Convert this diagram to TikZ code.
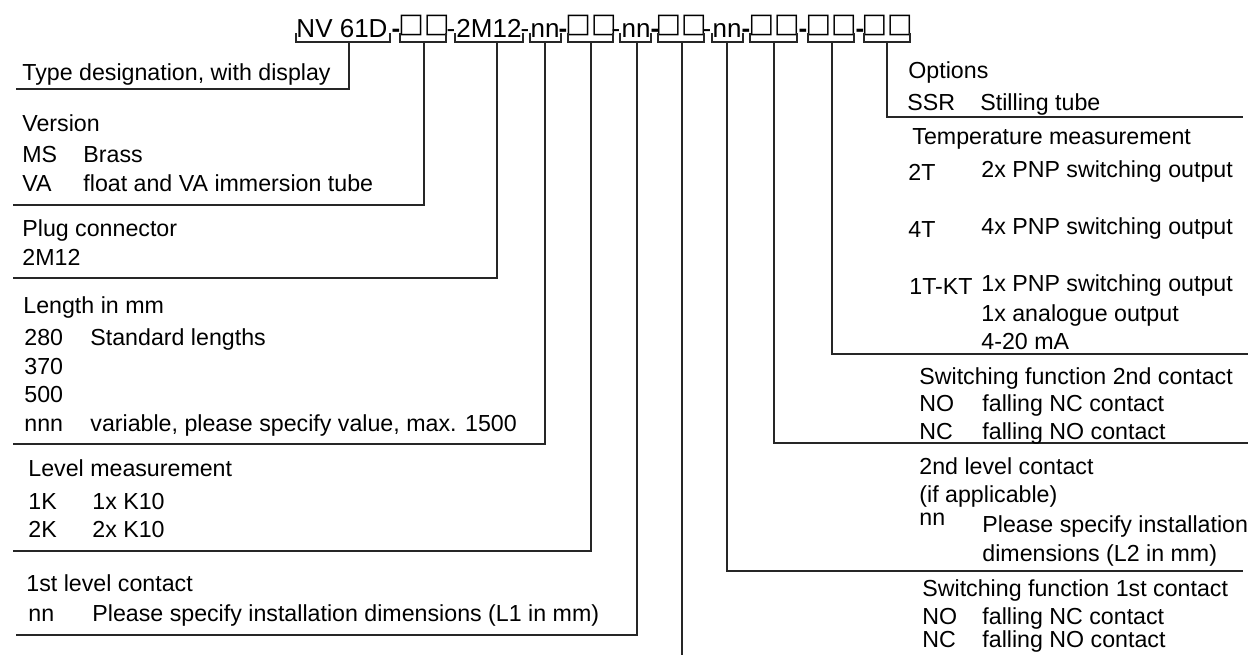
\documentclass[tikz,border=0pt]{standalone}
\usepackage{fontspec}
\setmainfont{Liberation Sans}
\newfontfamily\symfont{DejaVu Sans}
\begin{document}
\begin{tikzpicture}[x=0.5pt,y=-0.5pt,
  txt/.style={anchor=base west,inner sep=0pt,font=\fontsize{11.6}{13}\selectfont},
  hdr/.style={anchor=base,inner sep=0pt,font=\fontsize{13}{15}\selectfont},
  hbold/.style={anchor=base,inner sep=0pt,font=\fontsize{13}{15}\selectfont\bfseries},
  sq/.style={anchor=base,inner sep=0pt,font=\symfont\fontsize{13.5}{13.5}\selectfont},
  lead/.style={line width=0.9pt,draw=black!85},
]
\useasboundingbox (0,0) rectangle (1251,654);
% header
\node[hdr] (h1) at (342,37) {NV 61D};
\node[hbold] (d1) at (396,37) {-};
\node[sq] (h2) at (424,32.5) {□□};
\node[hdr] (d2) at (451,37) {-};
\node[hdr] (h3) at (489,37) {2M12};
\node[hdr] (d3) at (525,37) {-};
\node[hdr] (h4) at (545,37) {nn};
\node[hbold] (d4) at (563,37) {-};
\node[sq] (h5) at (591,32.5) {□□};
\node[hdr] (d5) at (616,37) {-};
\node[hdr] (h6) at (636,37) {nn};
\node[hbold] (d6) at (655,37) {-};
\node[sq] (h7) at (681,32.5) {□□};
\node[hdr] (d7) at (707,37) {-};
\node[hdr] (h8) at (727,37) {nn};
\node[hbold] (d8) at (746,37) {-};
\node[sq] (h9) at (774,32.5) {□□};
\node[hbold] (d9) at (803,37) {-};
\node[sq] (h10) at (831,32.5) {□□};
\node[hbold] (d10) at (860,37) {-};
\node[sq] (h11) at (887,32.5) {□□};
% brackets
\foreach \l/\r/\s/\n in {296/390/349/1,400/446/424/2,455/523/497/3,530/561/545/4,568/613/591/5,620/651/637/6,658/704/682/7,712/743/727/8,750/797/774/9,808/854/832/10,864/910/887/11}{
  \draw[lead] (\l,33) -- (\l,42) -- (\r,42) -- (\r,33);
  \coordinate (s\n) at (\s,42);
}
% ends of leader lines
\coordinate (e1) at (16,89);
\coordinate (e2) at (13,205);
\coordinate (e3) at (13,278);
\coordinate (e4) at (13,444);
\coordinate (e5) at (13,551);
\coordinate (e6) at (16,635);
\coordinate (e7) at (682,660);
\coordinate (e8) at (1243,571);
\coordinate (e9) at (1248,443);
\coordinate (e10) at (1248,354);
\coordinate (e11) at (1243,117);
\foreach \n in {1,2,3,4,5,6,8,9,10,11}{\draw[lead] (s\n) |- (e\n);}
\draw[lead] (s7) -- (e7);
% left column
\node[txt] (t1) at (22,80) {Type designation, with display};
\node[txt] (t2) at (22,131) {Version};
\node[txt] (t2a) at (22,162) {MS};
\node[txt] (t2b) at (83,162) {Brass};
\node[txt] (t2c) at (22,191) {VA};
\node[txt] (t2d) at (83,191) {float and VA immersion tube};
\node[txt] (t3) at (22,236) {Plug connector};
\node[txt] (t3a) at (22,265) {2M12};
\node[txt] (t4) at (23,313) {Length in mm};
\node[txt] (t4a) at (24,345) {280};
\node[txt] (t4b) at (90,345) {Standard lengths};
\node[txt] (t4c) at (24,374) {370};
\node[txt] (t4d) at (24,402) {500};
\node[txt] (t4e) at (24,431) {nnn};
\node[txt] (t4f) at (90,431) {variable, please specify value, max. 1500};
\node[txt] (t5) at (28,476) {Level measurement};
\node[txt] (t5a) at (28,509) {1K};
\node[txt] (t5b) at (92,509) {1x K10};
\node[txt] (t5c) at (28,537) {2K};
\node[txt] (t5d) at (92,537) {2x K10};
\node[txt] (t6) at (26,591) {1st level contact};
\node[txt] (t6a) at (28,621) {nn};
\node[txt] (t6b) at (92,621) {Please specify installation dimensions (L1 in mm)};
% right column
\node[txt] (r1) at (908,78) {Options};
\node[txt] (r1a) at (907,110) {SSR};
\node[txt] (r1b) at (980,110) {Stilling tube};
\node[txt] (r2) at (912,144) {Temperature measurement};
\node[txt] (r2a) at (908,180) {2T};
\node[txt] (r2b) at (981,177) {2x PNP switching output};
\node[txt] (r2c) at (908,237) {4T};
\node[txt] (r2d) at (981,234) {4x PNP switching output};
\node[txt] (r2e) at (909,294) {1T-KT};
\node[txt] (r2f) at (981,291) {1x PNP switching output};
\node[txt] (r2g) at (981,321) {1x analogue output};
\node[txt] (r2h) at (981,349) {4-20 mA};
\node[txt] (r3) at (919,384) {Switching function 2nd contact};
\node[txt] (r3a) at (919,411) {NO};
\node[txt] (r3b) at (982,411) {falling NC contact};
\node[txt] (r3c) at (919,439) {NC};
\node[txt] (r3d) at (982,439) {falling NO contact};
\node[txt] (r4) at (919,474) {2nd level contact};
\node[txt] (r4a) at (919,502) {(if applicable)};
\node[txt] (r4b) at (919,525) {nn};
\node[txt] (r4c) at (982,532) {Please specify installation};
\node[txt] (r4d) at (982,561) {dimensions (L2 in mm)};
\node[txt] (r5) at (922,596) {Switching function 1st contact};
\node[txt] (r5a) at (922,624) {NO};
\node[txt] (r5b) at (982,624) {falling NC contact};
\node[txt] (r5c) at (922,647) {NC};
\node[txt] (r5d) at (982,647) {falling NO contact};
\end{tikzpicture}
\end{document}
